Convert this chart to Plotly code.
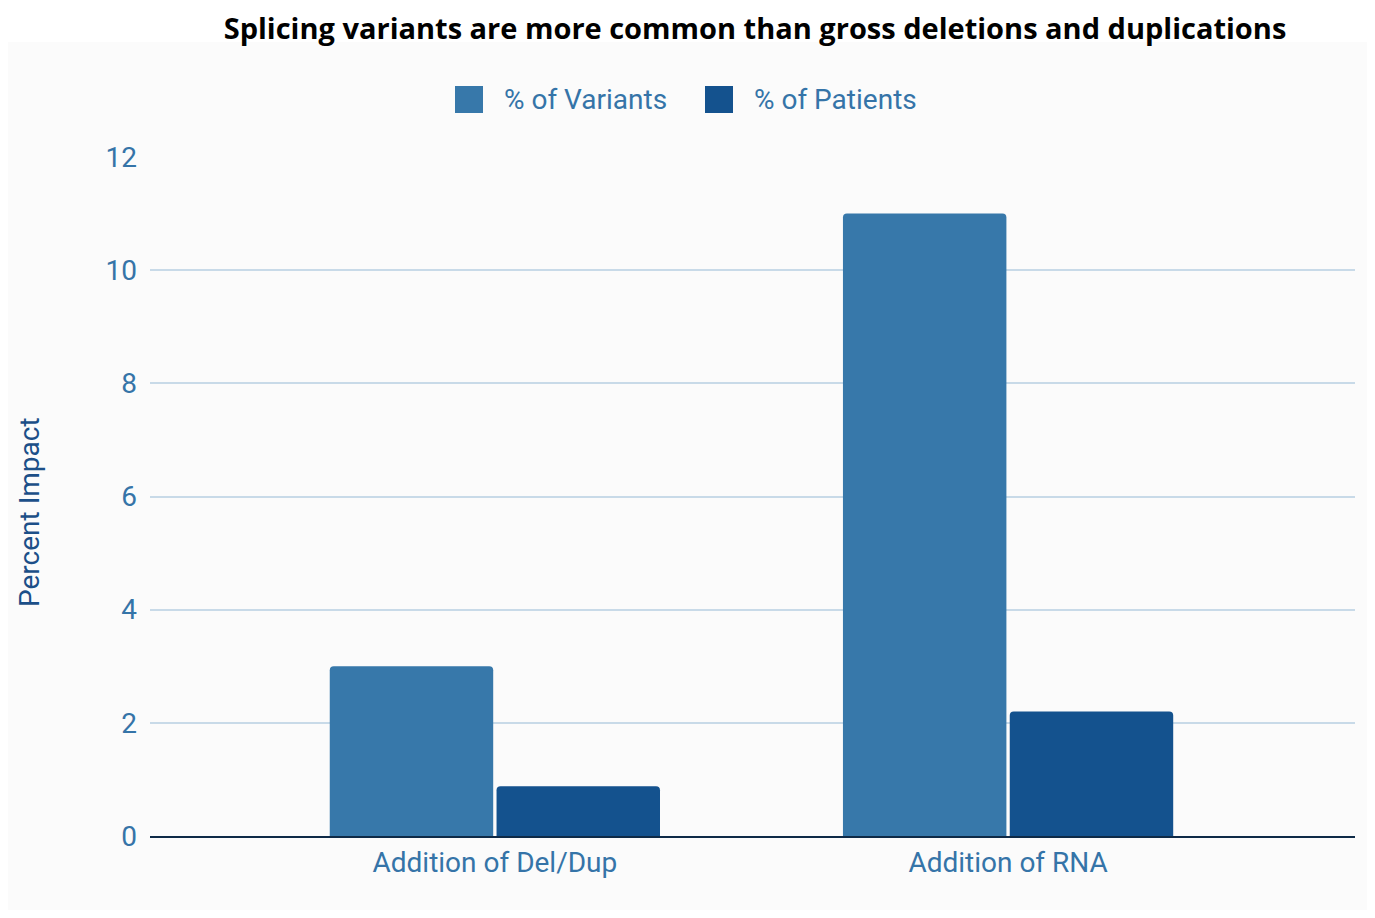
import plotly.graph_objects as go

categories = ["Addition of Del/Dup", "Addition of RNA"]
variants_pct = [3.0, 11.0]
patients_pct = [0.88, 2.2]
series_names = ["% of Variants", "% of Patients"]
series_colors = ["#3778aa", "#14528e"]
y_ticks = [0, 2, 4, 6, 8, 10, 12]
title_text = "Splicing variants are more common than gross deletions and duplications"
y_title = "Percent Impact"

# page has an 8px body margin, so the figure is laid out in page coords minus 8
W, H = 1367, 910
L, R, T, B = 142, 20, 149, 82
PW, PH = W - L - R, H - T - B


def px(x):
    return (x - 8 - L) / PW


def py(y):
    return (H - B - (y - 8)) / PH


tick_color = "#3574a8"
FS = 28
fig = go.Figure()
for name, vals, col in zip(series_names, [variants_pct, patients_pct], series_colors):
    fig.add_trace(go.Bar(x=categories, y=vals, name=name, showlegend=False,
                         marker=dict(color=col, cornerradius=4, line=dict(width=0))))

shapes = [dict(type="rect", xref="paper", yref="paper", x0=px(8), x1=px(1373),
               y0=py(910), y1=py(42), fillcolor="#fbfbfb", line=dict(width=0),
               layer="below")]
annotations = [dict(text=y_title, xref="paper", yref="paper", x=px(30), y=py(512),
                    textangle=-90, showarrow=False, xanchor="center", yanchor="middle",
                    font=dict(family="Roboto", size=FS, color="#1c4f88"))]

# custom legend (large square swatches)
legend_x = [(455, 502), (705, 752)]
for (sx, tx), name, col in zip(legend_x, series_names, series_colors):
    shapes.append(dict(type="rect", xref="paper", yref="paper", x0=px(sx), x1=px(sx + 28),
                       y0=py(113), y1=py(86), fillcolor=col, line=dict(width=0), layer="above"))
    annotations.append(dict(text=name, xref="paper", yref="paper", x=px(tx), y=py(99),
                            showarrow=False, xanchor="left", yanchor="middle",
                            font=dict(family="Roboto", size=FS, color=tick_color)))

fig.update_layout(
    width=W, height=H,
    margin=dict(l=L, r=R, t=T, b=B),
    paper_bgcolor="white",
    plot_bgcolor="rgba(0,0,0,0)",
    barmode="group",
    bargap=0.35,
    bargroupgap=0.02,
    showlegend=False,
    font=dict(family="Roboto", size=FS, color=tick_color),
    title=dict(text=title_text, x=(755 - 8) / W, xanchor="center", y=1 - 21 / H,
               yanchor="middle", yref="container",
               font=dict(family="Open Sans", size=29, color="black", weight="bold")),
    xaxis=dict(range=[-0.672, 1.676], showline=True, linecolor="#0e2a47", linewidth=2,
               showgrid=False, ticks="", tickfont=dict(size=FS, color=tick_color)),
    yaxis=dict(range=[0, 12], tickvals=y_ticks, showgrid=True, gridcolor="#c8dae8", gridwidth=2,
               zeroline=False, ticks="", ticklabelstandoff=12,
               tickfont=dict(size=FS, color=tick_color)),
    shapes=shapes,
    annotations=annotations,
)

fig.write_html("out.html")
